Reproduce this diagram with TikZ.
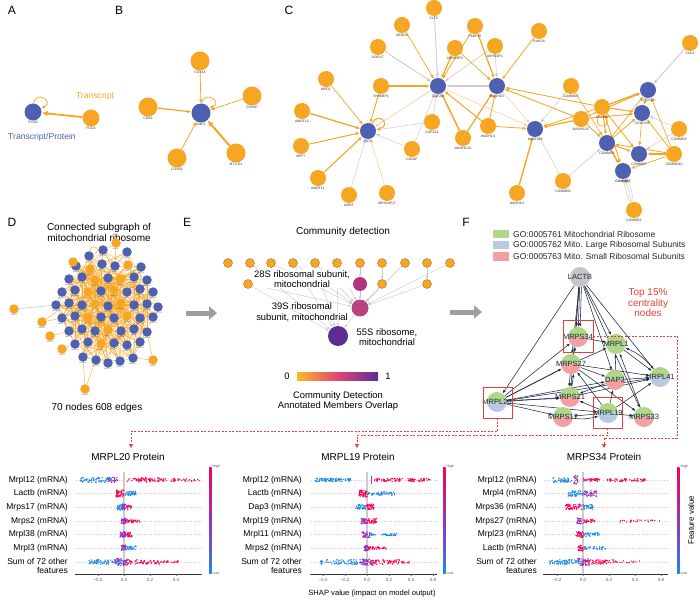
\documentclass[tikz,border=0pt]{standalone}
\usepackage{fontspec}
\setmainfont{Liberation Sans}
\usetikzlibrary{arrows.meta}
\definecolor{orn}{RGB}{247,166,35}
\definecolor{blu}{RGB}{78,96,176}
\definecolor{egray}{RGB}{205,205,205}
\definecolor{lorn}{RGB}{247,205,140}
\definecolor{navy}{RGB}{32,40,66}
\definecolor{gogreen}{RGB}{176,214,136}
\definecolor{goblue}{RGB}{184,201,225}
\definecolor{gopink}{RGB}{243,160,160}
\definecolor{redc}{RGB}{230,62,58}
\definecolor{shpink}{RGB}{255,0,82}
\definecolor{shblue}{RGB}{30,136,229}
\definecolor{shpurp}{RGB}{150,50,190}
\definecolor{arrgray}{RGB}{158,158,158}
\definecolor{cmag}{RGB}{178,52,128}
\definecolor{cmagb}{RGB}{186,66,126}
\definecolor{cpurp}{RGB}{94,44,145}
\definecolor{cbyel}{RGB}{253,183,40}
\definecolor{cbpink}{RGB}{222,70,118}
\pgfdeclarelayer{bg}
\pgfsetlayers{bg,main}
\tikzset{
  plabel/.style={font=\fontsize{12}{12}\selectfont, inner sep=0pt},
  ttl/.style={font=\fontsize{10}{11.5}\selectfont, align=center, inner sep=0pt},
  ttls/.style={font=\fontsize{9.4}{10.5}\selectfont, align=center, inner sep=0pt},
  tinyl/.style={font=\fontsize{3.4}{4}\selectfont, text=black!80, inner sep=0.6pt},
  dtiny/.style={font=\fontsize{1.8}{2}\selectfont, text=black!70, inner sep=0.1pt},
  onode/.style={circle, fill=orn, inner sep=0pt, minimum size=16pt},
  bnode/.style={circle, fill=blu, inner sep=0pt, minimum size=16pt},
  dnode/.style={circle, inner sep=0pt, minimum size=9.5pt},
  enode/.style={circle, fill=orn, draw=orn!60!black, line width=0.3pt, inner sep=0pt, minimum size=9pt},
  oarr/.style={draw=orn, line width=#1, -{Latex[length=4pt,width=3.4pt]}},
  oarr/.default=0.8pt,
  garr/.style={draw=egray, line width=#1, -{Latex[length=4pt,width=3.4pt]}},
  garr/.default=0.8pt,
  larr/.style={draw=lorn, line width=#1, -{Latex[length=3.5pt,width=3pt]}},
  larr/.default=0.5pt,
  dedge/.style={draw=orn, line width=0.35pt, opacity=0.8},
  earr/.style={draw=gray!45, line width=0.4pt, -{Latex[length=3pt,width=2.4pt]}},
  farr/.style={draw=navy, line width=0.55pt, -{Latex[length=3.5pt,width=2.6pt]}},
  fnode/.style 2 args={circle, inner sep=0pt, minimum size=20pt,
    path picture={\fill[#1] (path picture bounding box.north west) rectangle (path picture bounding box.east);
                  \fill[#2] (path picture bounding box.west) rectangle (path picture bounding box.south east);}},
  flab/.style={font=\fontsize{7.5}{8}\selectfont, text=navy, inner sep=0pt},
  redbox/.style={draw=redc, line width=0.6pt, inner sep=0pt, minimum width=29pt, minimum height=31pt},
  reddash/.style={draw=redc, line width=0.6pt, dash pattern=on 2pt off 1.5pt},
  redtip/.style={-{Triangle[length=4pt,width=4pt]}},
  rowl/.style={anchor=east, font=\fontsize{8.5}{9.5}\selectfont, inner sep=0pt, align=right},
  tickl/.style={font=\fontsize{4.5}{5}\selectfont, text=black!65, inner sep=0pt},
  hl/.style={font=\fontsize{3.5}{4}\selectfont, text=black!70, inner sep=0pt, anchor=west},
  guide/.style={draw=gray!40, line width=0.5pt, dash pattern=on 0.5pt off 2pt},
  zline/.style={draw=gray!40, line width=2.2pt},
}
\newcommand\cnd[5]{\node[#4, label={[tinyl]below:#5}] (#1) at (#2,#3) {};}
\newcommand\shapdots[6]{%
  \foreach \k in {1,...,#5}{\foreach \j in {1,2}{%
    \pgfmathsetmacro\sdx{#2+rnd*(#3-#2)}%
    \pgfmathsetmacro\sdy{#1+(2*rnd-1)*#6*1.15}%
    \fill[#4] (\sdx,\sdy) circle[radius=0.75pt];
  }}}
\begin{document}
\begin{tikzpicture}[x=1pt,y=-1pt]
\useasboundingbox (0,0) rectangle (700,601);

% ================= panel letters
\node[plabel] (la) at (12,10) {A};
\node[plabel] (lb) at (119,10) {B};
\node[plabel] (lc) at (289,10) {C};
\node[plabel] (ld) at (12,222) {D};
\node[plabel] (le) at (187,222) {E};
\node[plabel] (lf) at (466,222) {F};

% ================= panel A
\node[bnode, minimum size=17pt, label={[tinyl]below:PCCB}] (pccb) at (33,112) {};
\node[onode, minimum size=17pt, label={[tinyl]below:PCCA}] (pcca) at (91,118) {};
\begin{pgfonlayer}{bg}
\draw[oarr=1.8pt, -{Latex[length=6pt,width=5.5pt]}] (pcca) -- (pccb);
\draw[oarr=0.7pt] (pccb.85) .. controls +(2,-14) and +(14,-6) .. (pccb.25);
\end{pgfonlayer}
\node[font=\fontsize{8.6}{9}\selectfont, text=orn, inner sep=0pt] (ttr) at (95,96) {Transcript};
\node[font=\fontsize{8.6}{9}\selectfont, text=blu, inner sep=0pt] (ttp) at (42,137) {Transcript/Protein};

% ================= panel B
\node[bnode, minimum size=19pt, label={[tinyl]below:CMC1}] (cmc1) at (201,113) {};
\node[onode, minimum size=19pt, label={[tinyl]below:COX14}] (cox14) at (200,61) {};
\node[onode, minimum size=19pt, label={[tinyl]below:COX6C}] (cox6c) at (252,96) {};
\node[onode, minimum size=19pt, label={[tinyl]below:COA3}] (coa3) at (148,107) {};
\node[onode, minimum size=19pt, label={[tinyl]below:COX5A}] (cox5a) at (177,158) {};
\node[onode, minimum size=19pt, label={[tinyl]below:MT-CO1}] (mtco1) at (236,153) {};
\begin{pgfonlayer}{bg}
\draw[oarr=0.7pt] (cox14) -- (cmc1);
\draw[oarr=0.7pt] (cox6c) -- (cmc1);
\draw[oarr=1.2pt] (coa3) -- (cmc1);
\draw[oarr=0.8pt] (cox5a) -- (cmc1);
\draw[oarr=2pt, -{Latex[length=6pt,width=5.5pt]}] (mtco1) -- (cmc1);
\draw[oarr=0.7pt] (cmc1.85) .. controls +(2,-14) and +(14,-6) .. (cmc1.30);
\end{pgfonlayer}

% ================= panel C
\cnd{cltc}{434}{8}{onode}{CLTC}
\cnd{nedd4}{402}{25}{onode}{NEDD4}
\cnd{fkbp15}{475}{26}{onode}{FKBP15}
\cnd{arhgef2}{455}{48}{onode}{ARHGEF2}
\cnd{arhgef1}{495}{46}{onode}{ARHGEF1}
\cnd{dock7}{378}{47}{onode}{DOCK7}
\cnd{pikk}{539}{31}{onode}{PI4K2A}
\cnd{cul2}{690}{43}{onode}{CUL2}
\cnd{capzb}{438}{86}{bnode}{CAPZB}
\cnd{washc5}{497}{86}{bnode}{WASHC5}
\cnd{mpdz}{326}{79}{onode}{MPDZ}
\cnd{sh3}{381}{86}{onode}{SH3KBP1}
\cnd{amotl2}{302}{111}{onode}{AMOTL2}
\cnd{patj}{368}{131}{bnode}{PATJ}
\cnd{capza1}{432}{122}{onode}{CAPZA1}
\cnd{washc2a}{463}{138}{onode}{WASHC2A}
\cnd{washc4}{488}{126}{onode}{WASHC4}
\cnd{mpp7}{301}{146}{onode}{MPP7}
\cnd{cd2ap}{412}{149}{onode}{CD2AP}
\cnd{amotl1}{318}{178}{onode}{AMOTL1}
\cnd{amot}{349}{195}{onode}{AMOT}
\cnd{arhgap}{387}{193}{onode}{ARHGAP17}
\cnd{commd2}{571}{86}{onode}{COMMD2}
\cnd{ccdc22}{648}{90}{bnode}{CCDC22}
\cnd{vps}{602}{107}{onode}{VPS35L}
\cnd{ccdc93}{642}{113}{bnode}{CCDC93}
\cnd{washc2c}{581}{119}{onode}{WASHC2C}
\cnd{washc1}{535}{129}{bnode}{WASHC1}
\cnd{commd4}{679}{129}{onode}{COMMD4}
\cnd{commd9}{607}{143}{bnode}{COMMD9}
\cnd{commd5}{639}{154}{bnode}{COMMD5}
\cnd{commd10}{674}{154}{onode}{COMMD10}
\cnd{commd7}{623}{171}{bnode}{\textbf{COMMD7}}
\cnd{commd8}{563}{181}{onode}{COMMD8}
\cnd{washc3}{517}{193}{onode}{WASHC3}
\cnd{commd3}{634}{210}{onode}{COMMD3}
\begin{pgfonlayer}{bg}
% PATJ
\draw[oarr=0.7pt] (mpdz) -- (patj);
\draw[oarr=1.3pt] (amotl2) -- (patj);
\draw[oarr=1pt] (mpp7) -- (patj);
\draw[oarr=1.1pt] (amotl1) -- (patj);
\draw[garr=0.5pt] (amot) -- (patj);
\draw[larr] (arhgap) -- (patj);
\draw[garr=0.5pt] (cd2ap) -- (patj);
\draw[garr=0.5pt] (capza1) -- (patj);
\draw[oarr=0.9pt] (sh3) -- (patj);
\draw[larr=0.6pt] (capzb) -- (patj);
\draw[oarr=1pt] (patj.60) .. controls +(6,-14) and +(16,-4) .. (patj.10);
% CAPZB
\draw[garr=0.9pt] (cltc) -- (capzb);
\draw[oarr=0.7pt] (nedd4) -- (capzb);
\draw[garr=0.9pt] (dock7) -- (capzb);
\draw[oarr=1.3pt] (arhgef2) -- (capzb);
\draw[oarr=0.8pt] (fkbp15) -- (capzb);
\draw[oarr=1.2pt] (sh3) -- (capzb);
\draw[garr=1.5pt] (washc5) -- (capzb);
\draw[oarr=1.5pt] (washc2a) -- (capzb);
\draw[oarr=1pt] (washc4) -- (capzb);
\draw[garr=0.5pt] (capza1) -- (capzb);
\draw[garr=0.5pt] (cd2ap) -- (capzb);
\draw[garr=0.7pt] (arhgef1) -- (capzb);
% WASHC5
\draw[oarr=1.2pt] (fkbp15) -- (washc5);
\draw[oarr=0.7pt] (arhgef2) -- (washc5);
\draw[garr=0.7pt] (arhgef1) -- (washc5);
\draw[oarr=0.8pt] (pikk) -- (washc5);
\draw[oarr=1.2pt] (washc2a) -- (washc5);
\draw[oarr=0.9pt] (washc4) -- (washc5);
\draw[oarr=0.9pt] (washc2c) -- (washc5);
\draw[oarr=0.8pt] (vps) -- (washc5);
% WASHC1
\draw[oarr=1.4pt] (washc3) -- (washc1);
\draw[larr] (capzb) -- (washc1);
\draw[oarr=0.8pt] (washc4) -- (washc1);
\draw[oarr=1.2pt] (washc2c) -- (washc1);
\draw[oarr=0.8pt] (vps) -- (washc1);
\draw[garr=0.5pt] (commd2) -- (washc1);
\draw[garr=0.5pt] (commd8) -- (washc1);
\draw[larr] (washc5) -- (washc1);
% CCDC22
\draw[garr=0.9pt] (cul2) -- (ccdc22);
\draw[oarr=1.4pt] (vps) -- (ccdc22);
\draw[oarr=0.9pt] (washc2c) -- (ccdc22);
\draw[oarr=0.7pt] (commd10) -- (ccdc22);
\draw[oarr=0.7pt] (commd9) -- (ccdc22);
% CCDC93
\draw[oarr=1.1pt] (vps) -- (ccdc93);
\draw[oarr=0.9pt] (washc2c) -- (ccdc93);
\draw[oarr=0.8pt] (commd9) -- (ccdc93);
\draw[oarr=0.8pt] (commd10) -- (ccdc93);
\draw[garr=0.5pt] (commd4) -- (ccdc93);
\draw[oarr=0.6pt] (ccdc22) -- (ccdc93);
% COMMD9
\draw[oarr=1pt] (vps) -- (commd9);
\draw[oarr=0.9pt] (washc2c) -- (commd9);
\draw[garr=0.6pt] (commd8) -- (commd9);
\draw[oarr=0.6pt] (commd2) -- (commd9);
\draw[oarr=0.8pt] (commd10) -- (commd9);
% COMMD5
\draw[oarr=1.2pt] (commd10) -- (commd5);
\draw[garr=0.5pt] (commd4) -- (commd5);
\draw[oarr=0.8pt] (vps) -- (commd5);
\draw[oarr=0.6pt] (ccdc93) -- (commd5);
\draw[oarr=1pt] (commd9) -- (commd5);
% COMMD7
\draw[garr=0.6pt] (commd3) -- (commd7);
\draw[garr=0.5pt] (commd3) to[bend left=10] (commd7);
\draw[garr=0.5pt] (commd3) to[bend right=10] (commd7);
\draw[oarr=0.9pt] (vps) -- (commd7);
\draw[oarr=1.4pt] (commd9) -- (commd7);
\draw[oarr=0.7pt] (commd10) -- (commd7);
\draw[oarr=0.7pt] (vps.250) .. controls +(-8,14) and +(4,16) .. (vps.300);
\end{pgfonlayer}

% ================= panel D
\node[ttl] (dtitle) at (99,232.5) {Connected subgraph of\\mitochondrial ribosome};
\foreach \x/\y/\c [count=\i] in {89/256/blu,103/250/blu,127/252/blu,
 76/266/blu,90/269/orn,102/264/blu,115/266/blu,128/265/orn,141/267/blu,
 69/279/blu,82/277/blu,95/280/orn,108/278/blu,121/279/orn,134/277/blu,147/280/blu,
 62/292/blu,75/290/blu,88/292/orn,101/291/blu,114/290/orn,127/292/blu,140/289/blu,153/292/blu,
 56/305/blu,69/303/blu,82/305/blu,95/304/orn,108/306/blu,121/303/orn,134/305/blu,147/304/blu,158/307/blu,
 62/318/blu,75/316/blu,88/318/orn,101/317/blu,114/318/blu,127/316/orn,140/318/blu,153/317/blu,
 69/331/blu,82/329/blu,95/331/blu,108/330/orn,121/331/blu,134/329/blu,147/332/blu,
 75/344/blu,88/342/blu,101/344/orn,114/343/blu,127/345/blu,140/342/blu,
 83/357/blu,96/360/blu,108/363/blu,120/361/blu,133/358/blu}
 {\node[dnode, fill=\c, label={[dtiny]below:MRPL\i}] (d\i) at (\x,\y) {};}
\foreach \x/\y [count=\i] in {14/309,42/322,50/336,62/349,85/389,153/360,116/243,73/262}
 {\node[dnode, fill=orn, label={[dtiny]below:MRPS\i}] (o\i) at (\x,\y) {};}
\pgfmathsetseed{4242}
\begin{pgfonlayer}{bg}
\foreach \k in {1,...,330}{%
  \pgfmathrandominteger{\ea}{1}{59}%
  \pgfmathrandominteger{\ed}{1}{58}%
  \pgfmathtruncatemacro\eb{mod(\ea-1+\ed,59)+1}%
  \draw[dedge] (d\ea) -- (d\eb);
}
\draw[draw=egray, line width=0.6pt] (o1) -- (d25);
\draw[dedge, line width=0.5pt] (o2) -- (d34);
\draw[dedge, line width=0.5pt] (o2) -- (d26);
\draw[dedge, line width=0.5pt] (o3) -- (d42);
\draw[dedge, line width=0.5pt] (o4) -- (d49);
\draw[dedge, line width=0.5pt] (o5) -- (d55);
\draw[dedge, line width=0.5pt] (o5) -- (d56);
\draw[dedge, line width=0.5pt] (o6) -- (d59);
\draw[dedge, line width=0.5pt] (o6) -- (d48);
\draw[dedge, line width=0.5pt] (o7) -- (d2);
\draw[dedge, line width=0.5pt] (o7) -- (d7);
\draw[dedge, line width=0.5pt] (o8) -- (d4);
\draw[draw=orn, line width=0.5pt] (d1.80) .. controls +(2,-10) and +(10,-4) .. (d1.20);
\end{pgfonlayer}
\node[ttl] (dcount) at (97,408) {70 nodes 608 edges};

% ================= big arrows
\coordinate (ga1) at (186,313);
\coordinate (ga2) at (217,313);
\coordinate (gb1) at (450,312);
\coordinate (gb2) at (482,312);
\draw[arrgray, line width=5pt, -{Triangle[length=8pt,width=13pt]}] (ga1) -- (ga2);
\draw[arrgray, line width=5pt, -{Triangle[length=8pt,width=13pt]}] (gb1) -- (gb2);

% ================= panel E
\node[ttl] (etitle) at (343,232) {Community detection};
\foreach \x [count=\i] in {228,250,271,293,315,337,360,382,405,427,450}
 {\node[enode] (t\i) at (\x,263) {};}
\node[enode] (ra) at (248,284) {};
\node[enode] (rb) at (382,284) {};
\node[enode] (rc) at (427,284) {};
\node[circle, fill=cmag, inner sep=0pt, minimum size=14pt] (n28) at (360,284) {};
\node[circle, fill=cmagb, inner sep=0pt, minimum size=17pt] (n39) at (360,308) {};
\node[circle, fill=cpurp, inner sep=0pt, minimum size=20pt] (n55) at (338,336) {};
\begin{pgfonlayer}{bg}
\draw[earr] (t7) -- (n28);
\draw[earr] (t8) -- (rb);
\draw[earr] (t10) -- (rc);
\draw[earr] (t9) -- (n39);
\draw[earr] (t11) -- (n39);
\draw[earr] (rc) -- (n39);
\draw[earr] (rb) -- (n39);
\draw[earr] (n28) -- (n39);
\draw[earr] (ra) -- (n39);
\draw[earr] (t3) -- (n39);
\draw[earr] (t4) -- (n39);
\draw[earr] (t5) -- (n39);
\draw[earr] (t6) -- (n55);
\draw[earr] (t5) -- (n55);
\draw[earr] (t4) -- (n55);
\draw[earr] (ra) -- (n55);
\draw[earr] (t2) -- (n55);
\draw[earr] (t6) -- (n39);
\draw[earr] (n39) -- (n55);
\end{pgfonlayer}
\node[ttls, fill=white, inner sep=0.5pt] (e28) at (302,279) {28S ribosomal subunit,\\mitochondrial};
\node[ttls] (e39) at (302,312) {39S ribosomal\\subunit, mitochondrial};
\node[ttls] (e55) at (387,337) {55S ribosome,\\mitochondrial};
\shade[left color=cbyel, right color=cpurp, middle color=cbpink] (297,372) rectangle (378,380);
\node[ttls] (cb0) at (287,376) {0};
\node[ttls] (cb1) at (388,376) {1};
\node[ttls] (ecap) at (338,401) {Community Detection\\Annotated Members Overlap};

% ================= panel F
\fill[gogreen] (493,230) rectangle (509,238.5);
\fill[goblue] (493,241) rectangle (509,249.5);
\fill[gopink] (493,252) rectangle (509,260.5);
\node[font=\fontsize{8.5}{9}\selectfont, text=black!85, anchor=west, inner sep=0pt] (lg1) at (513,234.5) {GO:0005761 Mitochondrial Ribosome};
\node[font=\fontsize{8.5}{9}\selectfont, text=black!85, anchor=west, inner sep=0pt] (lg2) at (513,245.5) {GO:0005762 Mito. Large Ribosomal Subunits};
\node[font=\fontsize{8.5}{9}\selectfont, text=black!85, anchor=west, inner sep=0pt] (lg3) at (513,256.5) {GO:0005763 Mito. Small Ribosomal Subunits};
\node[circle, fill=gray!45, inner sep=0pt, minimum size=20pt, label={[flab]center:LACTB}] (lactb) at (580,277) {};
\node[fnode={gogreen}{gopink}, label={[flab]center:MRPS34}] (s34) at (578,337) {};
\node[fnode={gogreen}{gogreen}, label={[flab]center:MRPL1}] (l1) at (616,344) {};
\node[fnode={gogreen}{gopink}, label={[flab]center:MRPS27}] (s27) at (571,364) {};
\node[fnode={gogreen}{gopink}, label={[flab]center:DAP3}] (dap3) at (615,380) {};
\node[fnode={gogreen}{goblue}, label={[flab]center:MRPL41}] (l41) at (660,377) {};
\node[fnode={gogreen}{goblue}, label={[flab]center:MRPL20}] (l20) at (497,402) {};
\node[fnode={gogreen}{gopink}, label={[flab]center:MRPS21}] (s21) at (570,397) {};
\node[fnode={gogreen}{goblue}, label={[flab]center:MRPL19}] (l19) at (608,413) {};
\node[fnode={gogreen}{gopink}, label={[flab]center:MRPS17}] (s17) at (563,417) {};
\node[fnode={gogreen}{gopink}, label={[flab]center:MRPS33}] (s33) at (644,417) {};
\begin{pgfonlayer}{bg}
\draw[farr] (lactb) -- (s34);
\draw[farr] (lactb.262) -- (s34.100);
\draw[farr] (lactb.278) -- (s34.78);
\draw[farr] (lactb) -- (s27);
\draw[farr] (lactb) -- (l1);
\draw[farr] (lactb.290) -- (dap3);
\draw[farr] (lactb) -- (l41);
\draw[farr] (lactb) -- (l20);
\draw[farr] (lactb) -- (s33);
\draw[farr] (lactb) -- (s21);
\draw[farr] (l20) -- (s34);
\draw[farr, line width=0.9pt] (l20) -- (s27);
\draw[farr] (l20) -- (s21);
\draw[farr] (l20.8) -- (s21.188);
\draw[farr] (l20) -- (dap3);
\draw[farr] (l20) -- (l41);
\draw[farr] (l20) -- (s17);
\draw[farr] (l20) -- (l19);
\draw[farr] (s27) -- (l1);
\draw[farr] (s27) -- (l41);
\draw[farr] (s27) -- (dap3);
\draw[farr] (s27) -- (s33);
\draw[farr] (s27.265) -- (s21.95);
\draw[farr] (s21.80) -- (s27.285);
\draw[farr] (s27) -- (s34);
\draw[farr] (dap3) -- (l1);
\draw[farr] (dap3) -- (s21);
\draw[farr] (dap3) -- (l41);
\draw[farr] (l19) -- (s21);
\draw[farr] (l19) -- (s17);
\draw[farr] (s17) to[bend right=12] (l19);
\draw[farr] (l19) -- (s33);
\draw[farr] (l19) -- (l41);
\draw[farr] (l19) -- (dap3);
\draw[farr] (l19) -- (s27);
\draw[farr] (l1) -- (l41);
\draw[farr] (l41) to[bend right=14] (l1);
\draw[farr] (s33) -- (l1);
\draw[farr] (s34) -- (l1);
\draw[farr] (s21) -- (l41);
\end{pgfonlayer}
\node[redbox, minimum width=30pt, minimum height=32pt] (bx34) at (578,336) {};
\node[redbox] (bx20) at (497.5,402.5) {};
\node[redbox] (bx19) at (607.5,412.5) {};
\node[font=\fontsize{10}{10.5}\selectfont, text=redc, align=center, inner sep=0pt] (topn) at (648,303) {Top 15\%\\centrality\\nodes};
\coordinate (t20) at (131,448);
\coordinate (t19) at (357,448);
\coordinate (t34) at (604,448);
\draw[reddash, redtip] (bx20.south) -- ++(0,13) -| (t20);
\draw[reddash, redtip] (bx19.south) -- ++(0,7) -| (t19);
\draw[reddash, redtip] (bx34.east) -- (677,336) -- (677,438) -| (t34);

% ================= SHAP panel 1
\pgfmathsetseed{777}
\node[ttl] (h1) at (128,457) {MRPL20 Protein};
\foreach \gy in {480,493.5,507,521,534.5,548,562} {\draw[guide] (76,\gy) -- (202,\gy);}
\draw[zline] (124,472) -- (124,574);
\node[rowl] (a1) at (68,480) {Mrpl12 (mRNA)};
\node[rowl] (a2) at (68,493.5) {Lactb (mRNA)};
\node[rowl] (a3) at (68,507) {Mrps17 (mRNA)};
\node[rowl] (a4) at (68,521) {Mrps2 (mRNA)};
\node[rowl] (a5) at (68,534.5) {Mrpl38 (mRNA)};
\node[rowl] (a6) at (68,548) {Mrpl3 (mRNA)};
\node[rowl] (a7) at (68,566) {Sum of 72 other\\features};
\shapdots{480}{80}{112}{shblue}{40}{2.2}
\shapdots{480}{108}{118}{shpurp}{10}{2.5}
\shapdots{480}{127}{200}{shpink}{40}{1.3}
\shapdots{480}{138}{160}{shpink}{15}{2.3}
\draw[shpurp, line width=0.8pt] (114,477) -- (114,483);
\shapdots{493.5}{116}{124}{shpink}{25}{3}
\shapdots{493.5}{124}{136}{shblue}{20}{1.8}
\shapdots{507}{117}{124}{shblue}{20}{2.5}
\shapdots{507}{122}{128}{shpurp}{15}{2.5}
\shapdots{507}{126}{132}{shpink}{8}{1.5}
\shapdots{521}{121}{126}{shpurp}{20}{2.5}
\shapdots{521}{126}{140}{shpink}{20}{1.2}
\shapdots{534.5}{120}{126}{shpurp}{20}{2.5}
\shapdots{534.5}{126}{133}{shpink}{15}{2}
\shapdots{548}{121}{126}{shpurp}{18}{2.5}
\shapdots{548}{126}{136}{shblue}{15}{1.5}
\shapdots{562}{88}{124}{shblue}{45}{2}
\shapdots{562}{115}{130}{shpurp}{25}{3}
\shapdots{562}{126}{160}{shpink}{30}{2}
\shapdots{562}{160}{180}{shpink}{12}{1}
\draw[line width=0.6pt, black!80] (75,574) -- (202,574);
\foreach \tx/\tlab in {98/−0.2,124/0.0,150/0.2,176/0.4}
 {\draw[black!60, line width=0.3pt] (\tx,574) -- (\tx,576); \node[tickl] at (\tx,580) {\tlab};}
\shade[top color=shpink, bottom color=shblue, middle color=shpurp] (209,467) rectangle (211.5,573);
\node[hl] (hi1) at (212.5,467) {High};
\node[hl] (lo1) at (212.5,573) {Low};

% ================= SHAP panel 2
\node[ttl] (h2) at (358,457) {MRPL19 Protein};
\foreach \gy in {480,493.5,507,521,534.5,548,562} {\draw[guide] (311,\gy) -- (437,\gy);}
\draw[zline] (367,472) -- (367,574);
\node[rowl] (b1) at (302,480) {Mrpl12 (mRNA)};
\node[rowl] (b2) at (302,493.5) {Lactb (mRNA)};
\node[rowl] (b3) at (302,507) {Dap3 (mRNA)};
\node[rowl] (b4) at (302,521) {Mrpl19 (mRNA)};
\node[rowl] (b5) at (302,534.5) {Mrpl11 (mRNA)};
\node[rowl] (b6) at (302,548) {Mrps2 (mRNA)};
\node[rowl] (b7) at (302,566) {Sum of 72 other\\features};
\shapdots{480}{315}{352}{shblue}{45}{1.4}
\draw[shpurp, line width=0.8pt] (371,476) -- (371,484);
\shapdots{480}{373}{430}{shpink}{50}{1.4}
\shapdots{493.5}{359}{367}{shpink}{25}{3}
\shapdots{493.5}{367}{395}{shblue}{30}{1.4}
\shapdots{507}{355}{366}{shblue}{20}{2}
\shapdots{507}{366}{374}{shpink}{20}{2.5}
\shapdots{521}{361}{367}{shpurp}{20}{2.5}
\shapdots{521}{367}{377}{shpink}{20}{2}
\shapdots{534.5}{362}{370}{shpurp}{20}{2.5}
\shapdots{534.5}{371}{376}{shblue}{5}{1}
\shapdots{534.5}{382}{398}{shblue}{15}{1}
\shapdots{548}{364}{368}{shpurp}{20}{2.5}
\shapdots{548}{368}{386}{shpink}{20}{1}
\shapdots{562}{320}{367}{shblue}{40}{2}
\shapdots{562}{360}{375}{shpurp}{25}{3}
\shapdots{562}{367}{400}{shpink}{30}{2}
\shapdots{562}{400}{412}{shpink}{6}{1}
\draw[line width=0.6pt, black!80] (310,574) -- (437,574);
\foreach \tx/\tlab in {323/−0.4,345/−0.2,367/0.0,389/0.2,411/0.4,433/0.6}
 {\draw[black!60, line width=0.3pt] (\tx,574) -- (\tx,576); \node[tickl] at (\tx,580) {\tlab};}
\shade[top color=shpink, bottom color=shblue, middle color=shpurp] (443,467) rectangle (445.5,573);
\node[hl] (hi2) at (446.5,467) {High};
\node[hl] (lo2) at (446.5,573) {Low};
\node[font=\fontsize{7.6}{8}\selectfont, inner sep=0pt] (xlab) at (372,594) {SHAP value (impact on model output)};

% ================= SHAP panel 3
\node[ttl] (h3) at (604,457) {MRPS34 Protein};
\foreach \gy in {480,493.5,507,521,534.5,548,562} {\draw[guide] (544,\gy) -- (668,\gy);}
\draw[zline] (583,472) -- (583,574);
\node[rowl] (c1) at (537,480) {Mrpl12 (mRNA)};
\node[rowl] (c2) at (537,493.5) {Mrpl4 (mRNA)};
\node[rowl] (c3) at (537,507) {Mrps36 (mRNA)};
\node[rowl] (c4) at (537,521) {Mrps27 (mRNA)};
\node[rowl] (c5) at (537,534.5) {Mrpl23 (mRNA)};
\node[rowl] (c6) at (537,548) {Lactb (mRNA)};
\node[rowl] (c7) at (537,566) {Sum of 72 other\\features};
\shapdots{480}{553}{572}{shblue}{25}{2}
\shapdots{480}{574}{578}{shpurp}{12}{4}
\shapdots{480}{583}{600}{shpink}{20}{1.2}
\shapdots{480}{607}{645}{shpink}{30}{1.2}
\shapdots{493.5}{568}{583}{shblue}{25}{2.5}
\shapdots{493.5}{583}{597}{shpurp}{25}{2.5}
\shapdots{507}{565}{582}{shpink}{30}{2.5}
\shapdots{507}{583}{593}{shblue}{20}{2}
\shapdots{521}{577}{583}{shpurp}{15}{2.5}
\shapdots{521}{583}{595}{shpink}{15}{1.5}
\shapdots{521}{620}{660}{shpink}{12}{1}
\shapdots{534.5}{576}{583}{shpink}{20}{2.5}
\shapdots{534.5}{583}{600}{shblue}{20}{1.5}
\shapdots{548}{578}{583}{shpink}{15}{2.5}
\shapdots{548}{583}{606}{shblue}{18}{1.2}
\shapdots{562}{548}{583}{shblue}{40}{2}
\shapdots{562}{578}{590}{shpurp}{20}{3}
\shapdots{562}{583}{615}{shpink}{30}{2}
\shapdots{562}{615}{640}{shpink}{8}{1}
\draw[line width=0.6pt, black!80] (543,574) -- (668,574);
\foreach \tx/\tlab in {557/−0.2,583/0.0,609/0.2,635/0.4,661/0.6}
 {\draw[black!60, line width=0.3pt] (\tx,574) -- (\tx,576); \node[tickl] at (\tx,580) {\tlab};}
\shade[top color=shpink, bottom color=shblue, middle color=shpurp] (677,467) rectangle (679.5,573);
\node[hl] (hi3) at (680.5,467) {High};
\node[hl] (lo3) at (680.5,573) {Low};
\node[font=\fontsize{8}{8}\selectfont, rotate=90, inner sep=0pt] (fv) at (691,520) {Feature value};
\end{tikzpicture}
\end{document}
